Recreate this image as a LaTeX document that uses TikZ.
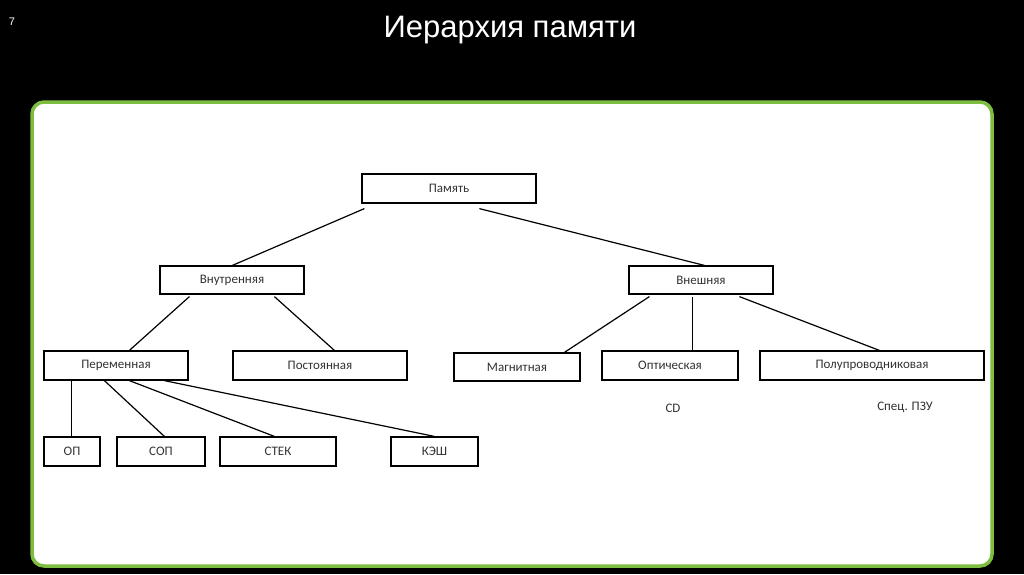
\documentclass[tikz,border=0pt]{standalone}
\usepackage{fontspec}
\setmainfont{Carlito}
\newfontfamily\titlefont{Liberation Sans}
\usetikzlibrary{calc}
\begin{document}
\begin{tikzpicture}[x=1pt,y=-1pt,
  bx/.style={draw=black,line width=1.2pt,fill=white,inner sep=0pt,font=\fontsize{13}{15}\selectfont,text=black!80},
  ln/.style={draw=black,line width=1.2pt}]
\useasboundingbox (0,0) rectangle (1024,574);
\fill[black] (0,0) rectangle (1024,574);
\node[text=white,font=\titlefont\fontsize{11}{13}\selectfont] (num) at (12,22) {7};
\node[text=white,font=\titlefont\fontsize{31}{36}\selectfont] (title) at (510,30) {Иерархия памяти};
\draw[draw={rgb,255:red,125;green,190;blue,65},line width=3.5pt,fill=white,rounded corners=12pt] (32,102) rectangle (992,566);
\newcommand{\bnode}[6]{\node[bx,minimum width=#4-#3,minimum height=#6-#5] (#1) at ({(#3+#4)/2},{(#5+#6)/2}) {#2};}
\bnode{pam}{Память}{362}{536}{174}{203}
\bnode{vn}{Внутренняя}{160}{304}{266}{294}
\bnode{ve}{Внешняя}{629}{773}{266}{294}
\bnode{per}{Переменная}{44}{188}{351}{380}
\bnode{pos}{Постоянная}{233}{407}{351}{380}
\bnode{mag}{Магнитная}{454}{580}{353}{381}
\bnode{opt}{Оптическая}{602}{738}{351}{380}
\bnode{pol}{Полупроводниковая}{760}{984}{351}{380}
\bnode{op}{ОП}{44}{100}{437}{466}
\bnode{sop}{СОП}{117}{205}{437}{466}
\bnode{stek}{СТЕК}{220}{336}{437}{466}
\bnode{kesh}{КЭШ}{391}{478}{437}{466}
\node[font=\fontsize{13}{15}\selectfont,text=black!80] (cd) at (673,408) {CD};
\node[font=\fontsize{13}{15}\selectfont,text=black!80] (pzu) at (905,407) {Спец. ПЗУ};
\draw[ln] ($(pam.south west)+(3,5)$) -- ($(vn.north west)+(73,0)$);
\draw[ln] ($(pam.south west)+(118,5)$) -- ($(ve.north west)+(76,0)$);
\draw[ln] ($(vn.south west)+(30,2)$) -- ($(per.north west)+(86,0)$);
\draw[ln] ($(vn.south west)+(115,2)$) -- ($(pos.north west)+(102,0)$);
\draw[ln] ($(ve.south west)+(21,2)$) -- ($(mag.north west)+(111,0)$);
\draw[ln] ($(ve.south west)+(64,2)$) -- ($(opt.north west)+(91,0)$);
\draw[ln] ($(ve.south west)+(111,2)$) -- ($(pol.north west)+(120,0)$);
\draw[ln] ($(per.south west)+(28,0)$) -- ($(op.north west)+(28,0)$);
\draw[ln] ($(per.south west)+(61,0)$) -- ($(sop.north west)+(48,0)$);
\draw[ln] ($(per.south west)+(86,0)$) -- ($(stek.north west)+(55,0)$);
\draw[ln] ($(per.south west)+(121,0)$) -- ($(kesh.north west)+(44,0)$);
\end{tikzpicture}
\end{document}
